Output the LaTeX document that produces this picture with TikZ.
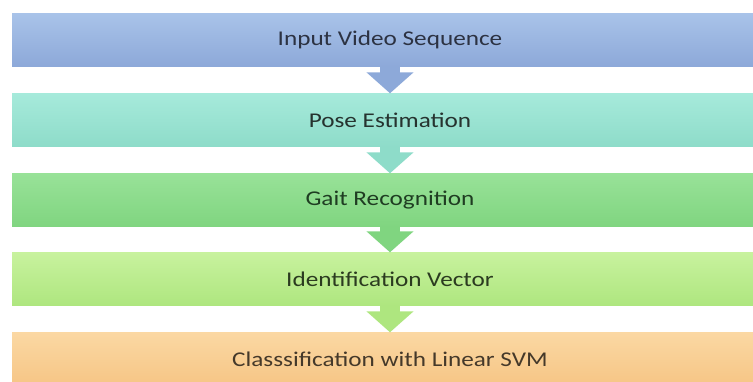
\documentclass[tikz,border=0pt]{standalone}
\usepackage{fontspec}
\setmainfont{Carlito}[FakeStretch=1.2]
\usepackage{tikz}
\usetikzlibrary{arrows.meta}
\definecolor{blueTop}{HTML}{A9C3E9}
\definecolor{blueBot}{HTML}{8DA9D9}
\definecolor{aquaTop}{HTML}{A6EADB}
\definecolor{aquaBot}{HTML}{8EDCC9}
\definecolor{greenTop}{HTML}{98E298}
\definecolor{greenBot}{HTML}{80D580}
\definecolor{limeTop}{HTML}{C8F29E}
\definecolor{limeBot}{HTML}{AEE67F}
\definecolor{peachTop}{HTML}{FBD8A3}
\definecolor{peachBot}{HTML}{F6C585}
\definecolor{blueInk}{HTML}{2C3242}
\definecolor{aquaInk}{HTML}{26332F}
\definecolor{greenInk}{HTML}{1F3D22}
\definecolor{limeInk}{HTML}{2B3B20}
\definecolor{peachInk}{HTML}{45392A}
\tikzset{stage/.style={rectangle, minimum width=756pt, minimum height=53pt, inner sep=0pt, font=\fontsize{21}{24}\selectfont},
  flow/.style={line width=20pt, -{Triangle[width=46pt, length=21pt]}}}

\begin{document}
\begin{tikzpicture}[x=1pt, y=1pt]
    \useasboundingbox (0,0) rectangle (753,-381);
    \def\axis{390}
    \node [stage, top color=blueTop, bottom color=blueBot, text=blueInk] (input) at (\axis,-39.5) {Input Video Sequence};
    \node [stage, top color=aquaTop, bottom color=aquaBot, text=aquaInk] (pose) at (\axis,-120) {Pose Estimation};
    \node [stage, top color=greenTop, bottom color=greenBot, text=greenInk] (gait) at (\axis,-200) {Gait Recognition};
    \node [stage, top color=limeTop, bottom color=limeBot, text=limeInk] (idvec) at (\axis,-279) {Identification Vector};
    \node [stage, top color=peachTop, bottom color=peachBot, text=peachInk] (svm) at (\axis,-359) {Classsification with Linear SVM};
    \draw [flow, blueBot] (input) -- (pose);
    \draw [flow, aquaBot] (pose) -- (gait);
    \draw [flow, greenBot] (gait) -- (idvec);
    \draw [flow, limeBot] (idvec) -- (svm);
  \end{tikzpicture}
\end{document}
